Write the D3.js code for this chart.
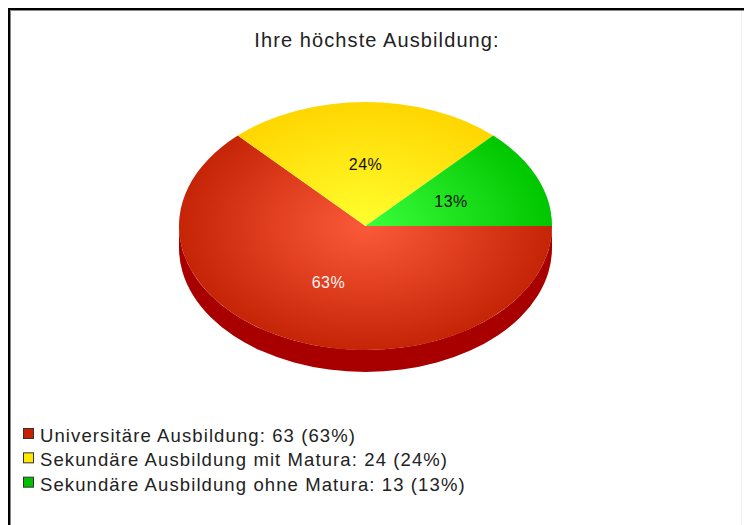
<!DOCTYPE html>
<html>
<head>
<meta charset="utf-8">
<script src="https://cdn.jsdelivr.net/npm/d3@7"></script>
<style>
  html, body { margin: 0; padding: 0; background: #fff; }
  svg { display: block; }
  text { font-family: "Liberation Sans", Arial, Helvetica, sans-serif; }
</style>
</head>
<body>
<script>
// Survey answers: highest education level
const titleText = "Ihre höchste Ausbildung:";
const categories = [
  "Universitäre Ausbildung",
  "Sekundäre Ausbildung mit Matura",
  "Sekundäre Ausbildung ohne Matura"
];
const counts = [63, 24, 13];

// slice styling: top-face gradient (centre -> rim), side wall, legend swatch, label ink
const faceInner = ["#fb5a3a", "#ffff2e", "#3cff3c"];
const faceOuter = ["#c62406", "#ffd600", "#00c600"];
const sideColor = ["#a80000", "#c8a800", "#009000"];
const swatchColor = ["#c82000", "#ffe800", "#00c000"];
const labelInk = ["#fff4f0", "#111", "#111"];

const W = 744, H = 525;
const svg = d3.select("body").append("svg").attr("width", W).attr("height", H);

// frame lines
svg.append("line").attr("x1", 8).attr("x2", W).attr("y1", 9).attr("y2", 9)
  .attr("stroke", "#000").attr("stroke-width", 2);
svg.append("line").attr("x1", 9).attr("x2", 9).attr("y1", 8).attr("y2", H)
  .attr("stroke", "#000").attr("stroke-width", 2);
svg.append("line").attr("x1", 10).attr("x2", W).attr("y1", 10.5).attr("y2", 10.5)
  .attr("stroke", "#888").attr("stroke-width", 1);
svg.append("line").attr("x1", 10.5).attr("x2", 10.5).attr("y1", 10).attr("y2", H)
  .attr("stroke", "#888").attr("stroke-width", 1);
svg.append("line").attr("x1", 741.5).attr("x2", 741.5).attr("y1", 11).attr("y2", H)
  .attr("stroke", "#eee").attr("stroke-width", 1);

// title
svg.append("text")
  .attr("x", 377).attr("y", 47)
  .attr("text-anchor", "middle")
  .attr("font-size", 20)
  .attr("letter-spacing", 1.1)
  .attr("fill", "#222")
  .text(titleText);

// 3D pie geometry
const cx = 365.5, cy = 226, rx = 186.5, ry = 124, depth = 22;
const total = d3.sum(counts);
const pct = counts.map(v => Math.round(v / total * 100));

const pie = d3.pie().sort(null).startAngle(Math.PI / 2).endAngle(Math.PI / 2 + 2 * Math.PI);
const arcs = pie(counts);

// point on the ellipse for a d3 angle (clockwise from 12 o'clock)
const px = (a, k = 1) => cx + rx * k * Math.sin(a);
const py = (a, k = 1, dy = 0) => cy - ry * k * Math.cos(a) + dy;

const defs = svg.append("defs");
arcs.forEach((d, i) => {
  const g = defs.append("radialGradient")
    .attr("id", "face" + i)
    .attr("gradientUnits", "userSpaceOnUse")
    .attr("cx", 0).attr("cy", 0).attr("r", rx)
    .attr("gradientTransform", `translate(${cx},${cy}) scale(1,${ry / rx})`);
  g.append("stop").attr("offset", "0%").attr("stop-color", faceInner[i]);
  g.append("stop").attr("offset", "100%").attr("stop-color", faceOuter[i]);
});

// side walls: only the part of each slice that lies on the front half
const frontStart = Math.PI / 2, frontEnd = 3 * Math.PI / 2;
const pieG = svg.append("g");
arcs.forEach((d, i) => {
  const a0 = Math.max(d.startAngle, frontStart);
  const a1 = Math.min(d.endAngle, frontEnd);
  if (a1 <= a0) return;
  const large = (a1 - a0) > Math.PI ? 1 : 0;
  const path = `M${px(a0)},${py(a0)} A${rx},${ry} 0 ${large} 1 ${px(a1)},${py(a1)}` +
    ` L${px(a1)},${py(a1, 1, depth)} A${rx},${ry} 0 ${large} 0 ${px(a0)},${py(a0, 1, depth)} Z`;
  pieG.append("path").attr("d", path).attr("fill", sideColor[i]);
});

// top faces
arcs.forEach((d, i) => {
  const a0 = d.startAngle, a1 = d.endAngle;
  const large = (a1 - a0) > Math.PI ? 1 : 0;
  const path = `M${cx},${cy} L${px(a0)},${py(a0)} A${rx},${ry} 0 ${large} 1 ${px(a1)},${py(a1)} Z`;
  pieG.append("path").attr("d", path).attr("fill", `url(#face${i})`);
});

// percentage labels inside the slices
arcs.forEach((d, i) => {
  const m = (d.startAngle + d.endAngle) / 2;
  pieG.append("text")
    .attr("x", px(m, 0.5)).attr("y", py(m, 0.5))
    .attr("text-anchor", "middle")
    .attr("dominant-baseline", "central")
    .attr("font-size", 16)
    .attr("letter-spacing", 0.5)
    .attr("fill", labelInk[i])
    .text(pct[i] + "%");
});

// legend
const legendY = d3.scaleBand().domain(d3.range(categories.length)).range([427, 500]).paddingInner(0);
const lg = svg.append("g");
categories.forEach((c, i) => {
  const y = legendY(i);
  lg.append("rect")
    .attr("x", 23.5).attr("y", y + 1.5)
    .attr("width", 10).attr("height", 10)
    .attr("fill", swatchColor[i])
    .attr("stroke", "#333").attr("stroke-width", 1);
  lg.append("text")
    .attr("x", 40).attr("y", y + 15)
    .attr("font-size", 18.5)
    .attr("letter-spacing", 1.1)
    .attr("fill", "#222")
    .text(`${c}: ${counts[i]} (${pct[i]}%)`);
});
</script>
</body>
</html>
